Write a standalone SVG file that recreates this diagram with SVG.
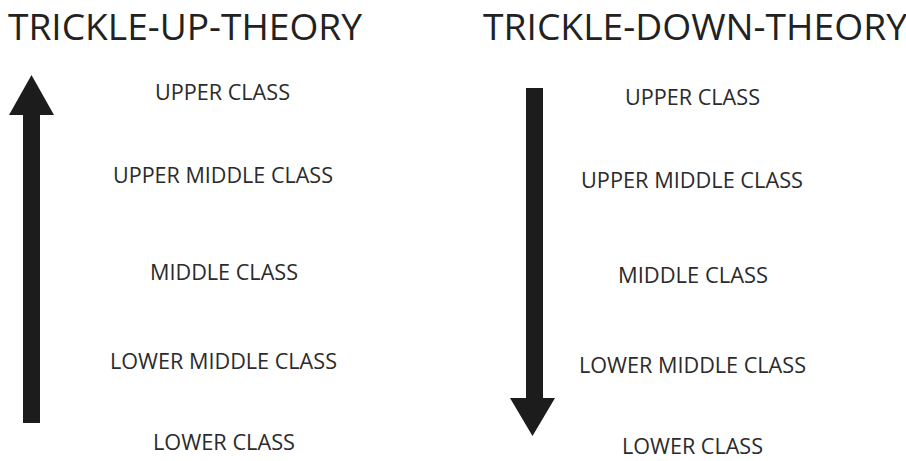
<svg xmlns="http://www.w3.org/2000/svg" width="906" height="461" viewBox="0 0 906 461">
<style>
.title{font-family:"Open Sans","Liberation Sans",sans-serif;font-size:36px;fill:#222}
.lbl{font-family:"Open Sans","Liberation Sans",sans-serif;font-size:21px;fill:#2b2b2b}
.arr{fill:#1c1c1c}
</style>
<rect width="906" height="461" fill="#ffffff"/>
<g id="title-up"><text class="title" x="8" y="40" textLength="354" lengthAdjust="spacingAndGlyphs">TRICKLE-UP-THEORY</text></g>
<g id="title-down"><text class="title" x="483" y="40" textLength="424" lengthAdjust="spacingAndGlyphs">TRICKLE-DOWN-THEORY</text></g>
<g id="left-labels">
<g id="l-upper"><text class="lbl" x="155" y="100" textLength="135" lengthAdjust="spacingAndGlyphs">UPPER CLASS</text></g>
<g id="l-upper-middle"><text class="lbl" x="113" y="183" textLength="220" lengthAdjust="spacingAndGlyphs">UPPER MIDDLE CLASS</text></g>
<g id="l-middle"><text class="lbl" x="150" y="280" textLength="148" lengthAdjust="spacingAndGlyphs">MIDDLE CLASS</text></g>
<g id="l-lower-middle"><text class="lbl" x="110" y="369" textLength="227" lengthAdjust="spacingAndGlyphs">LOWER MIDDLE CLASS</text></g>
<g id="l-lower"><text class="lbl" x="153" y="450" textLength="142" lengthAdjust="spacingAndGlyphs">LOWER CLASS</text></g>
</g>
<g id="right-labels">
<g id="r-upper"><text class="lbl" x="625" y="105" textLength="135" lengthAdjust="spacingAndGlyphs">UPPER CLASS</text></g>
<g id="r-upper-middle"><text class="lbl" x="581" y="188" textLength="222" lengthAdjust="spacingAndGlyphs">UPPER MIDDLE CLASS</text></g>
<g id="r-middle"><text class="lbl" x="618" y="283" textLength="150" lengthAdjust="spacingAndGlyphs">MIDDLE CLASS</text></g>
<g id="r-lower-middle"><text class="lbl" x="579" y="373" textLength="227" lengthAdjust="spacingAndGlyphs">LOWER MIDDLE CLASS</text></g>
<g id="r-lower"><text class="lbl" x="622" y="454" textLength="141" lengthAdjust="spacingAndGlyphs">LOWER CLASS</text></g>
</g>
<g id="connectors">
<path id="arrow-up" class="arr" d="M23,423 L23,115 L9,115 L31.5,75 L54,115 L40,115 L40,423 Z"/>
<path id="arrow-down" class="arr" d="M526,88 L543,88 L543,398 L555,398 L532.5,436 L510,398 L526,398 Z"/>
</g>
</svg>
